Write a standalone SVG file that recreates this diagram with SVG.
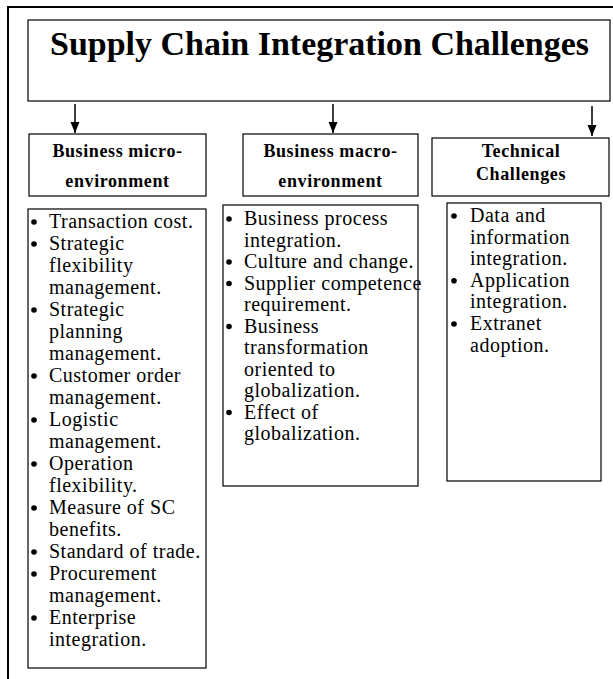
<svg xmlns="http://www.w3.org/2000/svg" width="613" height="679" viewBox="0 0 613 679">
<defs>
<marker id="ah" markerWidth="12" markerHeight="10" refX="11" refY="5" orient="auto" markerUnits="userSpaceOnUse">
<path d="M0,0.5 L11,5 L0,9.5 Z" fill="#000"/>
</marker>
<style>
.box{fill:#fff;stroke:#000;stroke-width:1.2}
.title{font-family:"Liberation Serif","Times New Roman",serif;font-weight:bold;font-size:33px;fill:#000}
.hdr{font-family:"Liberation Serif","Times New Roman",serif;font-weight:bold;font-size:18px;letter-spacing:0.6px;fill:#000;text-anchor:middle}
.li{font-family:"Liberation Serif","Times New Roman",serif;font-size:20px;letter-spacing:0.5px;fill:#000}
.bul{fill:#000}
.conn{stroke:#000;stroke-width:1.5;fill:none}
</style>
</defs>
<rect x="0" y="0" width="613" height="679" fill="#fff"/>
<rect x="8" y="7" width="700" height="800" fill="none" stroke="#000" stroke-width="2"/>

<g id="title">
<rect class="box" x="28" y="20" width="582" height="81"/>
<text class="title" x="50" y="55" textLength="539" lengthAdjust="spacingAndGlyphs">Supply Chain Integration Challenges</text>
</g>

<g id="connectors">
<line class="conn" x1="75" y1="104" x2="75" y2="133" marker-end="url(#ah)"/>
<line class="conn" x1="333" y1="104" x2="333" y2="133" marker-end="url(#ah)"/>
<line class="conn" x1="592" y1="106" x2="592" y2="136" marker-end="url(#ah)"/>
</g>

<g id="hdr-micro">
<rect class="box" x="29" y="134" width="177" height="62"/>
<text class="hdr" x="117.5" y="157">Business micro-</text>
<text class="hdr" x="117.5" y="187">environment</text>
</g>

<g id="hdr-macro">
<rect class="box" x="243" y="134" width="175" height="62"/>
<text class="hdr" x="330.5" y="157">Business macro-</text>
<text class="hdr" x="330.5" y="187">environment</text>
</g>

<g id="hdr-tech">
<rect class="box" x="432" y="138" width="177" height="58"/>
<text class="hdr" x="521" y="157">Technical</text>
<text class="hdr" x="521" y="180">Challenges</text>
</g>

<g id="list-micro">
<rect class="box" x="28" y="209" width="178" height="459"/>
<g class="bul">
<circle cx="34" cy="222" r="2.8"/>
<circle cx="34" cy="244" r="2.8"/>
<circle cx="34" cy="310" r="2.8"/>
<circle cx="34" cy="376" r="2.8"/>
<circle cx="34" cy="420" r="2.8"/>
<circle cx="34" cy="464" r="2.8"/>
<circle cx="34" cy="508" r="2.8"/>
<circle cx="34" cy="552" r="2.8"/>
<circle cx="34" cy="574" r="2.8"/>
<circle cx="34" cy="618" r="2.8"/>
</g>
<text class="li" x="49" y="228">Transaction cost.</text>
<text class="li" x="49" y="250">Strategic</text>
<text class="li" x="49" y="272">flexibility</text>
<text class="li" x="49" y="294">management.</text>
<text class="li" x="49" y="316">Strategic</text>
<text class="li" x="49" y="338">planning</text>
<text class="li" x="49" y="360">management.</text>
<text class="li" x="49" y="382">Customer order</text>
<text class="li" x="49" y="404">management.</text>
<text class="li" x="49" y="426">Logistic</text>
<text class="li" x="49" y="448">management.</text>
<text class="li" x="49" y="470">Operation</text>
<text class="li" x="49" y="492">flexibility.</text>
<text class="li" x="49" y="514">Measure of SC</text>
<text class="li" x="49" y="536">benefits.</text>
<text class="li" x="49" y="558">Standard of trade.</text>
<text class="li" x="49" y="580">Procurement</text>
<text class="li" x="49" y="602">management.</text>
<text class="li" x="49" y="624">Enterprise</text>
<text class="li" x="49" y="646">integration.</text>
</g>

<g id="list-macro">
<rect class="box" x="223" y="205" width="195" height="281"/>
<g class="bul">
<circle cx="229" cy="219" r="2.8"/>
<circle cx="229" cy="262" r="2.8"/>
<circle cx="229" cy="283.5" r="2.8"/>
<circle cx="229" cy="326.5" r="2.8"/>
<circle cx="229" cy="412.5" r="2.8"/>
</g>
<text class="li" x="244" y="225">Business process</text>
<text class="li" x="244" y="246.5">integration.</text>
<text class="li" x="244" y="268">Culture and change.</text>
<text class="li" x="244" y="289.5">Supplier competence</text>
<text class="li" x="244" y="311">requirement.</text>
<text class="li" x="244" y="332.5">Business</text>
<text class="li" x="244" y="354">transformation</text>
<text class="li" x="244" y="375.5">oriented to</text>
<text class="li" x="244" y="397">globalization.</text>
<text class="li" x="244" y="418.5">Effect of</text>
<text class="li" x="244" y="440">globalization.</text>
</g>

<g id="list-tech">
<rect class="box" x="447" y="203" width="154" height="278"/>
<g class="bul">
<circle cx="454" cy="216" r="2.8"/>
<circle cx="454" cy="280.8" r="2.8"/>
<circle cx="454" cy="324" r="2.8"/>
</g>
<text class="li" x="470" y="222">Data and</text>
<text class="li" x="470" y="243.6">information</text>
<text class="li" x="470" y="265.2">integration.</text>
<text class="li" x="470" y="286.8">Application</text>
<text class="li" x="470" y="308.4">integration.</text>
<text class="li" x="470" y="330">Extranet</text>
<text class="li" x="470" y="351.6">adoption.</text>
</g>
</svg>
